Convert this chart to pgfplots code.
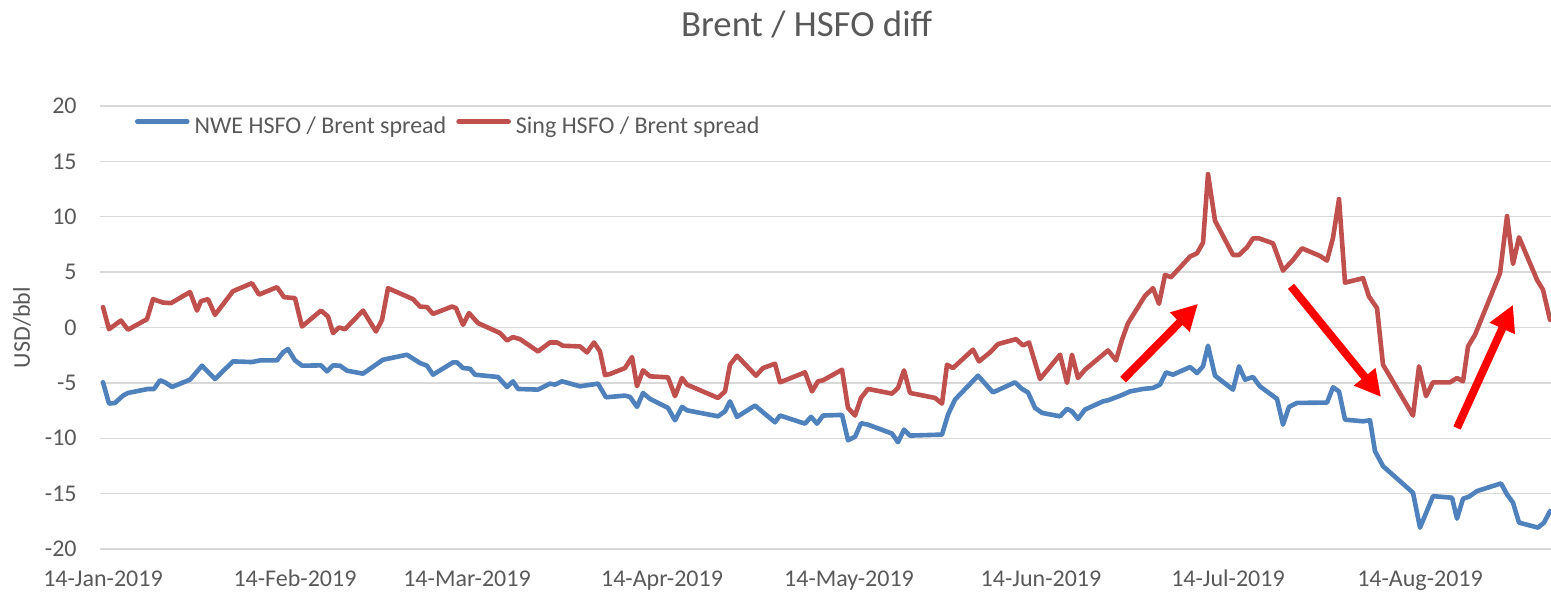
\documentclass[border=0pt]{standalone}
\usepackage{pgfplots}
\pgfplotsset{compat=1.18}
\usepackage{fontspec}
\setmainfont{Carlito}
\usetikzlibrary{arrows.meta,calc}
\definecolor{nweblue}{HTML}{4F81BD}
\definecolor{singred}{HTML}{C0504D}
\definecolor{txt}{HTML}{595959}
\definecolor{gridc}{HTML}{D9D9D9}
\definecolor{arrowred}{HTML}{FF0000}

\pgfplotstableread{
x y
103 -4.95
109 -6.87
115 -6.81
123 -6.15
128 -5.91
148 -5.55
154 -5.55
160 -4.77
165 -4.95
172 -5.37
190 -4.71
202 -3.45
215 -4.65
233 -3.06
252 -3.12
260 -2.97
277 -2.97
283 -2.25
288 -1.95
295 -2.97
302 -3.45
321 -3.42
327 -3.96
333 -3.42
340 -3.45
347 -3.90
363 -4.17
383 -2.91
407 -2.46
420 -3.21
427 -3.45
433 -4.26
453 -3.15
457 -3.15
463 -3.66
470 -3.72
475 -4.26
498 -4.47
507 -5.37
513 -4.86
518 -5.55
538 -5.61
550 -5.07
555 -5.16
562 -4.86
580 -5.31
598 -5.07
606 -6.30
625 -6.15
630 -6.27
637 -7.17
643 -5.91
650 -6.45
668 -7.26
675 -8.38
682 -7.17
687 -7.48
718 -8.02
725 -7.57
730 -6.67
737 -8.07
755 -7.05
775 -8.56
780 -7.95
805 -8.68
811 -8.07
817 -8.68
823 -7.95
842 -7.89
848 -10.18
855 -9.87
861 -8.65
868 -8.77
892 -9.58
898 -10.36
904 -9.22
910 -9.76
942 -9.67
948 -7.86
955 -6.51
978 -4.35
993 -5.86
1015 -4.95
1022 -5.55
1028 -5.86
1035 -7.26
1042 -7.71
1060 -8.02
1067 -7.35
1072 -7.57
1078 -8.25
1085 -7.41
1103 -6.67
1108 -6.57
1117 -6.27
1123 -6.06
1130 -5.77
1143 -5.55
1153 -5.46
1160 -5.16
1166 -4.05
1173 -4.26
1190 -3.57
1197 -4.11
1203 -3.51
1208 -1.65
1215 -4.35
1233 -5.61
1239 -3.51
1245 -4.71
1253 -4.47
1260 -5.32
1277 -6.45
1283 -8.77
1289 -7.17
1297 -6.81
1327 -6.78
1333 -5.40
1339 -5.77
1345 -8.32
1363 -8.47
1370 -8.38
1375 -11.17
1383 -12.52
1413 -14.92
1420 -18.07
1433 -15.23
1452 -15.37
1457 -17.26
1463 -15.46
1469 -15.28
1477 -14.77
1501 -14.08
1507 -15.07
1513 -15.82
1519 -17.62
1538 -18.07
1544 -17.62
1550 -16.58
}\nwe

\pgfplotstableread{
x y
103 1.84
109 -0.15
121 0.63
128 -0.20
147 0.75
153 2.56
163 2.25
171 2.20
190 3.20
197 1.53
201 2.38
208 2.56
215 1.14
233 3.28
252 4.00
259 2.97
277 3.64
284 2.74
295 2.65
302 0.09
321 1.53
328 0.99
333 -0.50
339 0.00
345 -0.15
363 1.53
376 -0.36
382 0.69
388 3.55
413 2.56
420 1.89
427 1.84
433 1.23
452 1.89
456 1.75
463 0.24
469 1.30
478 0.40
500 -0.50
507 -1.17
513 -0.87
520 -1.05
538 -2.16
550 -1.35
557 -1.35
563 -1.65
580 -1.71
587 -2.25
594 -1.35
600 -2.16
605 -4.30
610 -4.20
625 -3.66
632 -2.67
637 -5.30
643 -3.87
650 -4.41
668 -4.50
675 -6.20
682 -4.56
687 -5.16
718 -6.36
725 -5.77
730 -3.36
737 -2.55
756 -4.35
763 -3.66
775 -3.27
780 -4.95
805 -4.05
812 -5.77
818 -4.86
823 -4.77
842 -3.81
848 -7.26
855 -7.95
861 -6.36
868 -5.55
892 -5.97
898 -5.46
904 -3.87
910 -5.91
935 -6.36
942 -6.87
947 -3.36
953 -3.66
973 -2.00
979 -3.06
990 -2.25
998 -1.50
1016 -1.05
1023 -1.62
1029 -1.35
1040 -4.65
1060 -2.46
1067 -5.00
1072 -2.46
1078 -4.56
1085 -3.81
1108 -2.07
1116 -2.97
1122 -1.11
1128 0.39
1145 2.86
1153 3.55
1159 2.14
1165 4.75
1171 4.54
1190 6.40
1197 6.70
1203 7.66
1208 13.85
1215 9.64
1233 6.55
1239 6.55
1247 7.24
1253 8.05
1259 8.05
1273 7.60
1283 5.14
1293 6.10
1302 7.15
1320 6.46
1327 6.04
1333 8.10
1339 11.60
1345 4.05
1363 4.45
1369 2.79
1377 1.75
1383 -3.36
1413 -7.95
1419 -3.51
1426 -6.20
1433 -4.95
1450 -4.95
1457 -4.56
1463 -4.86
1468 -1.71
1475 -0.66
1500 4.90
1507 10.06
1513 5.74
1519 8.14
1537 4.30
1543 3.40
1550 0.69
}\sing

\begin{document}
\begin{tikzpicture}
\begin{axis}[
  name=ax,
  scale only axis,
  width=725.5pt, height=221.5pt,
  xmin=100, xmax=1551, ymin=-20, ymax=20,
  axis line style={draw=none},
  major tick length=0pt,
  ytick={-20,-15,-10,-5,0,5,10,15,20},
  yticklabels={-20,-15,-10,-5,0,5,10,15,20},
  xtick={103,295,467,662,849,1041,1228,1420},
  xticklabels={14-Jan-2019,14-Feb-2019,14-Mar-2019,14-Apr-2019,14-May-2019,14-Jun-2019,14-Jul-2019,14-Aug-2019},
  ymajorgrids,
  grid style={gridc, line width=0.65pt},
  ticklabel style={font=\fontsize{12}{14}\selectfont, text=txt},
  yticklabel style={anchor=east, inner xsep=0pt, xshift=-11.5pt},
  xticklabel style={anchor=base, yshift=-19pt},
  ylabel={USD/bbl},
  ylabel style={at={(axis description cs:-0.0538,0.5)}, anchor=center, rotate=0, font=\fontsize{12}{14}\selectfont, text=txt},
  title={Brent / HSFO diff},
  title style={at={(axis description cs:0.487,1)}, anchor=base, yshift=28.5pt, font=\fontsize{18.4}{22}\selectfont, text=txt},
  legend columns=-1,
  legend style={draw=none, fill=none, inner sep=0pt, outer sep=0pt,
    at={(axis description cs:0.0241,0.9526)}, anchor=west,
    font=\fontsize{12}{14}\selectfont, text=txt,
    nodes={inner sep=0pt},
    /tikz/every odd column/.style={column sep=2.5pt},
    /tikz/every even column/.style={column sep=5pt}},
  legend image code/.code={\draw[#1, line cap=round] (0pt,0.27em) -- (25pt,0.27em);},
]
\addplot[nweblue, line width=2.3pt, line join=round, line cap=round] table[x=x,y=y] {\nwe};
\addlegendentry{NWE HSFO / Brent spread}
\addplot[singred, line width=2.3pt, line join=round, line cap=round] table[x=x,y=y] {\sing};
\addlegendentry{Sing HSFO / Brent spread}
\addplot[arrowred, line width=4pt, -{Triangle[length=13pt,width=13pt]}, forget plot] coordinates {(1123,-4.71) (1198,2.14)};
\addplot[arrowred, line width=4pt, -{Triangle[length=13pt,width=13pt]}, forget plot] coordinates {(1291,3.72) (1381,-6.27)};
\addplot[arrowred, line width=4pt, -{Triangle[length=13pt,width=13pt]}, forget plot] coordinates {(1457,-9.07) (1513,2.05)};
\end{axis}
\pgfresetboundingbox
\path[use as bounding box] ($(ax.south west)+(-50pt,-22pt)$) rectangle ($(ax.north east)+(0pt,53pt)$);
\end{tikzpicture}
\end{document}
